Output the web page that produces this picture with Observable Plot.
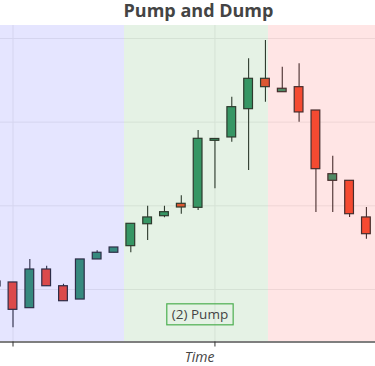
<!DOCTYPE html>
<html><head><meta charset="utf-8">
<script src="https://cdn.jsdelivr.net/npm/d3@7"></script>
<script src="https://cdn.jsdelivr.net/npm/@observablehq/plot@0.6"></script>
<style>html,body{margin:0;padding:0;background:#fff;} svg{display:block;}</style>
</head><body><div id="chart"></div>
<script>
// ---- data ----
const days  = [-1, 0, 1, 2, 3, 4, 5, 6, 7, 8, 9, 10, 11, 12, 13, 14, 15, 16, 17, 18, 19, 20, 21];
const open  = [10.36, 10.84, 7.77, 12.39, 10.39, 8.80, 13.59, 14.39, 15.18, 17.80, 18.76, 20.24, 19.76, 27.77, 28.17, 31.55, 35.18, 33.58, 34.18, 31.39, 22.99, 22.99, 18.61];
const high  = [10.96, 10.84, 13.59, 12.78, 10.63, 13.59, 14.63, 15.02, 17.85, 19.96, 19.96, 21.20, 29.00, 27.99, 32.98, 37.57, 39.76, 36.57, 36.97, 31.39, 25.93, 22.99, 19.80];
const low   = [10.36, 5.42, 7.77, 10.39, 8.60, 8.80, 13.59, 14.39, 14.39, 15.86, 18.57, 19.00, 19.44, 22.04, 27.60, 24.22, 32.39, 33.58, 29.99, 19.20, 19.20, 18.61, 16.01];
const close = [10.96, 7.57, 12.39, 10.39, 8.60, 13.59, 14.39, 15.02, 17.85, 18.61, 19.24, 19.80, 28.01, 27.99, 31.79, 35.18, 34.18, 33.99, 31.16, 24.38, 23.78, 19.00, 16.61];

const phaseStart = [-10, 6.625, 15.18];
const phaseEnd   = [6.625, 15.18, 40];
const phaseColor = ["#0000ff", "#008000", "#ff0000"];

const labelText = ["(2) Pump"];
const labelX    = [11.11];

const gridY = [10, 20, 30, 40];
const tickX = [0, 12];

// ---- tables ----
const candles = days.map((d, k) => ({i: d, open: open[k], high: high[k], low: low[k], close: close[k]}));
const phases = phaseStart.map((s, k) => ({start: s, end: phaseEnd[k], color: phaseColor[k]}));
const labels = labelText.map((t, k) => ({text: t, x: labelX[k]}));

const INC = "#3D9970", DEC = "#F45337";
const half = 0.26;
const font = "'Open Sans', sans-serif";

const chart = Plot.plot({
  width: 375, height: 366,
  marginLeft: 0, marginRight: 0, marginTop: 25, marginBottom: 24.5,
  style: {fontFamily: font, background: "#fff", overflow: "visible"},
  x: {domain: [-0.743, 21.54]},
  y: {domain: [3.725, 41.55], axis: null},
  marks: [
    Plot.ruleY(gridY, {stroke: "#eeeeee", strokeWidth: 1}),
    Plot.ruleX(tickX, {stroke: "#eeeeee", strokeWidth: 1}),
    Plot.ruleX(candles, {x: "i", y1: "low", y2: "high", stroke: "#333", strokeWidth: 1.1, clip: true}),
    Plot.rect(candles, {
      x1: d => d.i - half, x2: d => d.i + half,
      y1: "open", y2: "close",
      fill: d => d.close >= d.open ? INC : DEC,
      stroke: "#333", strokeWidth: 1.2, clip: true
    }),
    Plot.rect(phases, {x1: "start", x2: "end", fill: "color", fillOpacity: 0.1, clip: true}),
    Plot.frame({anchor: "bottom", stroke: "#555", strokeWidth: 1.6}),
    Plot.axisX(tickX, {tickSize: 5, tickFormat: () => "", stroke: "#333", label: null}),
    Plot.text(labels, {x: "x", text: "text", frameAnchor: "bottom", dy: -27, lineAnchor: "middle",
      fontSize: 13.5, fill: "#444"}),
    Plot.text(["Pump and Dump"], {frameAnchor: "top", dy: -14, dx: 10.5, lineAnchor: "middle",
      fontSize: 18, fontWeight: "bold", fill: "#444"}),
    Plot.text(["Time"], {frameAnchor: "bottom", dy: 15.5, dx: 11.5, lineAnchor: "middle",
      fontSize: 14, fontStyle: "italic", fill: "#444"})
  ]
});
document.getElementById("chart").appendChild(chart);

// box around the phase label (same transform as the text)
d3.select(chart).selectAll("text").filter(function () {
  return labelText.includes(this.textContent);
}).each(function () {
  const b = this.getBBox();
  const padX = 5, padY = 1.5;
  const r = d3.select(this.parentNode).insert("rect", ":first-child")
    .attr("x", b.x - padX).attr("y", b.y - padY)
    .attr("width", b.width + 2 * padX).attr("height", b.height + 2 * padY)
    .attr("fill", "none").attr("stroke", "#4caf50").attr("stroke-width", 1.2);
  const t = this.getAttribute("transform");
  if (t) r.attr("transform", t);
});
</script>
</body></html>
